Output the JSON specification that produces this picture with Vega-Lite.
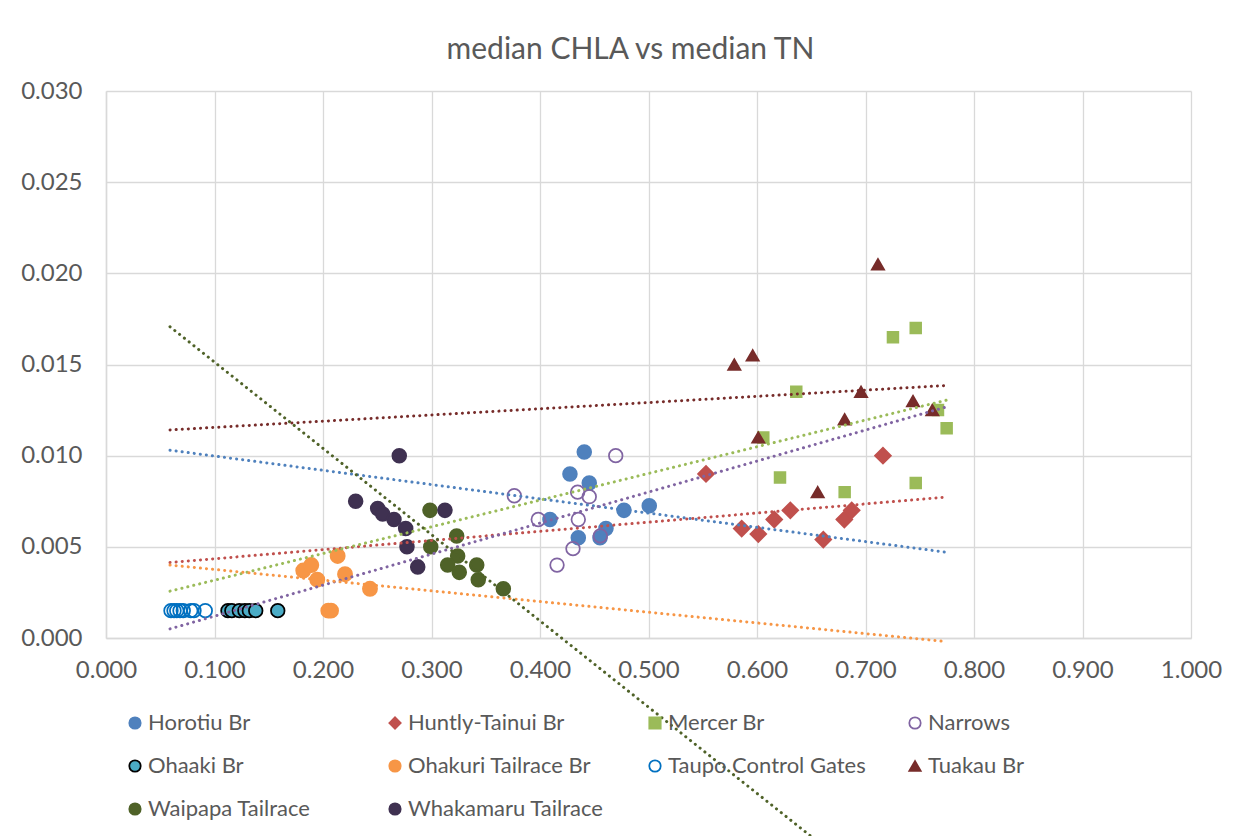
{
  "$schema": "https://vega.github.io/schema/vega-lite/v6.json",
  "width": 1085,
  "height": 547,
  "autosize": {"type": "none"},
  "padding": {"left": 106, "top": 91, "right": 54, "bottom": 198},
  "background": "white",
  "title": {"text": "median CHLA vs median TN", "fontSize": 30, "fontWeight": "normal", "color": "#595959", "font": "Lato", "anchor": "middle", "frame": "group", "dx": -18, "baseline": "alphabetic", "offset": -10},
  "datasets": {
    "points": [
      {"series": "Horotiu Br", "tn": 0.4408, "chla": 0.0102},
      {"series": "Horotiu Br", "tn": 0.4276, "chla": 0.0090},
      {"series": "Horotiu Br", "tn": 0.4454, "chla": 0.0085},
      {"series": "Horotiu Br", "tn": 0.4092, "chla": 0.0065},
      {"series": "Horotiu Br", "tn": 0.4353, "chla": 0.0055},
      {"series": "Horotiu Br", "tn": 0.4553, "chla": 0.0055},
      {"series": "Horotiu Br", "tn": 0.4608, "chla": 0.0060},
      {"series": "Horotiu Br", "tn": 0.4774, "chla": 0.0070},
      {"series": "Horotiu Br", "tn": 0.5007, "chla": 0.00725},
      {"series": "Huntly-Tainui Br", "tn": 0.5530, "chla": 0.0090},
      {"series": "Huntly-Tainui Br", "tn": 0.5859, "chla": 0.0060},
      {"series": "Huntly-Tainui Br", "tn": 0.6012, "chla": 0.0057},
      {"series": "Huntly-Tainui Br", "tn": 0.6159, "chla": 0.0065},
      {"series": "Huntly-Tainui Br", "tn": 0.6307, "chla": 0.0070},
      {"series": "Huntly-Tainui Br", "tn": 0.6611, "chla": 0.0054},
      {"series": "Huntly-Tainui Br", "tn": 0.6805, "chla": 0.0065},
      {"series": "Huntly-Tainui Br", "tn": 0.6873, "chla": 0.0070},
      {"series": "Huntly-Tainui Br", "tn": 0.7161, "chla": 0.0100},
      {"series": "Mercer Br", "tn": 0.6362, "chla": 0.0135},
      {"series": "Mercer Br", "tn": 0.6058, "chla": 0.0110},
      {"series": "Mercer Br", "tn": 0.6212, "chla": 0.0088},
      {"series": "Mercer Br", "tn": 0.6808, "chla": 0.0080},
      {"series": "Mercer Br", "tn": 0.7253, "chla": 0.0165},
      {"series": "Mercer Br", "tn": 0.7463, "chla": 0.0170},
      {"series": "Mercer Br", "tn": 0.7668, "chla": 0.0125},
      {"series": "Mercer Br", "tn": 0.7748, "chla": 0.0115},
      {"series": "Mercer Br", "tn": 0.7463, "chla": 0.0085},
      {"series": "Narrows", "tn": 0.3763, "chla": 0.0078},
      {"series": "Narrows", "tn": 0.3984, "chla": 0.0065},
      {"series": "Narrows", "tn": 0.4347, "chla": 0.0080},
      {"series": "Narrows", "tn": 0.4454, "chla": 0.00775},
      {"series": "Narrows", "tn": 0.4353, "chla": 0.0065},
      {"series": "Narrows", "tn": 0.4698, "chla": 0.0100},
      {"series": "Narrows", "tn": 0.4304, "chla": 0.0049},
      {"series": "Narrows", "tn": 0.4157, "chla": 0.0040},
      {"series": "Narrows", "tn": 0.4556, "chla": 0.0056},
      {"series": "Ohaaki Br", "tn": 0.1124, "chla": 0.0015},
      {"series": "Ohaaki Br", "tn": 0.1160, "chla": 0.0015},
      {"series": "Ohaaki Br", "tn": 0.1229, "chla": 0.0015},
      {"series": "Ohaaki Br", "tn": 0.1280, "chla": 0.0015},
      {"series": "Ohaaki Br", "tn": 0.1321, "chla": 0.0015},
      {"series": "Ohaaki Br", "tn": 0.1380, "chla": 0.0015},
      {"series": "Ohaaki Br", "tn": 0.1583, "chla": 0.0015},
      {"series": "Ohakuri Tailrace Br", "tn": 0.1818, "chla": 0.0037},
      {"series": "Ohakuri Tailrace Br", "tn": 0.1892, "chla": 0.0040},
      {"series": "Ohakuri Tailrace Br", "tn": 0.1947, "chla": 0.0032},
      {"series": "Ohakuri Tailrace Br", "tn": 0.2135, "chla": 0.0045},
      {"series": "Ohakuri Tailrace Br", "tn": 0.2203, "chla": 0.0035},
      {"series": "Ohakuri Tailrace Br", "tn": 0.2433, "chla": 0.0027},
      {"series": "Ohakuri Tailrace Br", "tn": 0.2049, "chla": 0.0015},
      {"series": "Ohakuri Tailrace Br", "tn": 0.2074, "chla": 0.0015},
      {"series": "Taupo Control Gates", "tn": 0.0599, "chla": 0.0015},
      {"series": "Taupo Control Gates", "tn": 0.0627, "chla": 0.0015},
      {"series": "Taupo Control Gates", "tn": 0.0652, "chla": 0.0015},
      {"series": "Taupo Control Gates", "tn": 0.0682, "chla": 0.0015},
      {"series": "Taupo Control Gates", "tn": 0.0712, "chla": 0.0015},
      {"series": "Taupo Control Gates", "tn": 0.0781, "chla": 0.0015},
      {"series": "Taupo Control Gates", "tn": 0.0811, "chla": 0.0015},
      {"series": "Taupo Control Gates", "tn": 0.0915, "chla": 0.0015},
      {"series": "Tuakau Br", "tn": 0.5791, "chla": 0.0150},
      {"series": "Tuakau Br", "tn": 0.5960, "chla": 0.0155},
      {"series": "Tuakau Br", "tn": 0.6012, "chla": 0.0110},
      {"series": "Tuakau Br", "tn": 0.6559, "chla": 0.0080},
      {"series": "Tuakau Br", "tn": 0.6808, "chla": 0.0120},
      {"series": "Tuakau Br", "tn": 0.6959, "chla": 0.0135},
      {"series": "Tuakau Br", "tn": 0.7115, "chla": 0.0205},
      {"series": "Tuakau Br", "tn": 0.7438, "chla": 0.0130},
      {"series": "Tuakau Br", "tn": 0.7616, "chla": 0.0125},
      {"series": "Waipapa Tailrace", "tn": 0.2986, "chla": 0.0070},
      {"series": "Waipapa Tailrace", "tn": 0.3232, "chla": 0.0056},
      {"series": "Waipapa Tailrace", "tn": 0.2993, "chla": 0.0050},
      {"series": "Waipapa Tailrace", "tn": 0.3241, "chla": 0.0045},
      {"series": "Waipapa Tailrace", "tn": 0.3149, "chla": 0.0040},
      {"series": "Waipapa Tailrace", "tn": 0.3256, "chla": 0.0036},
      {"series": "Waipapa Tailrace", "tn": 0.3417, "chla": 0.0040},
      {"series": "Waipapa Tailrace", "tn": 0.3431, "chla": 0.0032},
      {"series": "Waipapa Tailrace", "tn": 0.3662, "chla": 0.0027},
      {"series": "Whakamaru Tailrace", "tn": 0.2703, "chla": 0.0100},
      {"series": "Whakamaru Tailrace", "tn": 0.2301, "chla": 0.0075},
      {"series": "Whakamaru Tailrace", "tn": 0.2504, "chla": 0.0071},
      {"series": "Whakamaru Tailrace", "tn": 0.2550, "chla": 0.0068},
      {"series": "Whakamaru Tailrace", "tn": 0.2654, "chla": 0.0065},
      {"series": "Whakamaru Tailrace", "tn": 0.2762, "chla": 0.0060},
      {"series": "Whakamaru Tailrace", "tn": 0.3124, "chla": 0.0070},
      {"series": "Whakamaru Tailrace", "tn": 0.2774, "chla": 0.0050},
      {"series": "Whakamaru Tailrace", "tn": 0.2873, "chla": 0.0039}
    ],
    "trend": [
      {"series": "Horotiu Br", "tn": 0.059, "chla": 0.0103},
      {"series": "Horotiu Br", "tn": 0.775, "chla": 0.0047},
      {"series": "Huntly-Tainui Br", "tn": 0.059, "chla": 0.00414},
      {"series": "Huntly-Tainui Br", "tn": 0.775, "chla": 0.00773},
      {"series": "Mercer Br", "tn": 0.059, "chla": 0.00257},
      {"series": "Mercer Br", "tn": 0.775, "chla": 0.01305},
      {"series": "Narrows", "tn": 0.059, "chla": 0.0005},
      {"series": "Narrows", "tn": 0.775, "chla": 0.01268},
      {"series": "Ohakuri Tailrace Br", "tn": 0.059, "chla": 0.0040},
      {"series": "Ohakuri Tailrace Br", "tn": 0.775, "chla": -0.0002},
      {"series": "Tuakau Br", "tn": 0.059, "chla": 0.01141},
      {"series": "Tuakau Br", "tn": 0.775, "chla": 0.01385},
      {"series": "Waipapa Tailrace", "tn": 0.059, "chla": 0.01707},
      {"series": "Waipapa Tailrace", "tn": 0.775, "chla": -0.0168}
    ]
  },
  "layer": [
    {
      "data": {"name": "points"},
      "mark": {"type": "point", "opacity": 1, "strokeWidth": 1.75},
      "encoding": {
        "x": {"field": "tn", "type": "quantitative", "scale": {"domain": [0, 1], "nice": false, "zero": false},
              "axis": {"title": null, "values": [0, 0.1, 0.2, 0.3, 0.4, 0.5, 0.6, 0.7, 0.8, 0.9, 1.0], "format": ".3f", "ticks": false, "labelPadding": 20, "labelFlush": false, "labelOverlap": false}},
        "y": {"field": "chla", "type": "quantitative", "scale": {"domain": [0, 0.03], "nice": false, "zero": false},
              "axis": {"title": null, "values": [0, 0.005, 0.01, 0.015, 0.02, 0.025, 0.03], "format": ".3f", "ticks": false, "labelPadding": 24, "labelFlush": false, "labelOverlap": false}},
        "shape": {"field": "series", "type": "nominal", "title": null,
                  "scale": {"domain": ["Horotiu Br", "Huntly-Tainui Br", "Mercer Br", "Narrows", "Ohaaki Br", "Ohakuri Tailrace Br", "Taupo Control Gates", "Tuakau Br", "Waipapa Tailrace", "Whakamaru Tailrace"],
                            "range": ["circle", "diamond", "square", "circle", "circle", "circle", "circle", "triangle-up", "circle", "circle"]},
                  "legend": {"orient": "none", "legendX": 18, "legendY": 621, "labelFontSize": 22, "columnPadding": 38, "rowPadding": 21, "labelOffset": 2}},
        "fill": {"field": "series", "type": "nominal", "title": null,
                 "scale": {"domain": ["Horotiu Br", "Huntly-Tainui Br", "Mercer Br", "Narrows", "Ohaaki Br", "Ohakuri Tailrace Br", "Taupo Control Gates", "Tuakau Br", "Waipapa Tailrace", "Whakamaru Tailrace"],
                           "range": ["#4F81BD", "#C0504D", "#9BBB59", "transparent", "#4BACC6", "#F79646", "transparent", "#772C2A", "#4F6228", "#3F3151"]}},
        "stroke": {"field": "series", "type": "nominal", "title": null,
                   "scale": {"domain": ["Horotiu Br", "Huntly-Tainui Br", "Mercer Br", "Narrows", "Ohaaki Br", "Ohakuri Tailrace Br", "Taupo Control Gates", "Tuakau Br", "Waipapa Tailrace", "Whakamaru Tailrace"],
                             "range": ["#4F81BD", "#C0504D", "#9BBB59", "#8064A2", "#000000", "#F79646", "#0070C0", "#772C2A", "#4F6228", "#3F3151"]}},
        "size": {"field": "series", "type": "nominal",
                 "scale": {"type": "ordinal", "domain": ["Whakamaru Tailrace", "Waipapa Tailrace", "Tuakau Br", "Taupo Control Gates", "Ohakuri Tailrace Br", "Ohaaki Br", "Narrows", "Mercer Br", "Huntly-Tainui Br", "Horotiu Br"],
                           "range": [190, 190, 150, 185, 200, 185, 185, 115, 250, 190]},
                 "legend": null}
      }
    },
    {
      "data": {"name": "trend"},
      "mark": {"type": "line", "clip": false, "strokeDash": [0.1, 6], "strokeCap": "round", "strokeWidth": 3},
      "encoding": {
        "x": {"field": "tn", "type": "quantitative"},
        "y": {"field": "chla", "type": "quantitative"},
        "color": {"field": "series", "type": "nominal",
                  "scale": {"domain": ["Horotiu Br", "Huntly-Tainui Br", "Mercer Br", "Narrows", "Ohakuri Tailrace Br", "Tuakau Br", "Waipapa Tailrace"],
                            "range": ["#4F81BD", "#C0504D", "#9BBB59", "#8064A2", "#F79646", "#772C2A", "#4F6228"]},
                  "legend": null}
      }
    }
  ],
  "config": {
    "font": "Lato",
    "view": {"stroke": null},
    "axis": {"labelFontSize": 24, "labelColor": "#595959", "labelFont": "Lato", "gridColor": "#d9d9d9", "gridWidth": 1.3, "domainColor": "#d9d9d9", "domainWidth": 1.5},
    "legend": {"orient": "none", "legendX": 18, "legendY": 621, "direction": "horizontal", "columns": 4, "gridAlign": "all", "columnPadding": 38, "rowPadding": 21, "labelFontSize": 22, "labelColor": "#595959", "labelFont": "Lato", "labelLimit": 400, "symbolSize": 130, "symbolStrokeWidth": 1.75, "labelOffset": 2}
  }
}
